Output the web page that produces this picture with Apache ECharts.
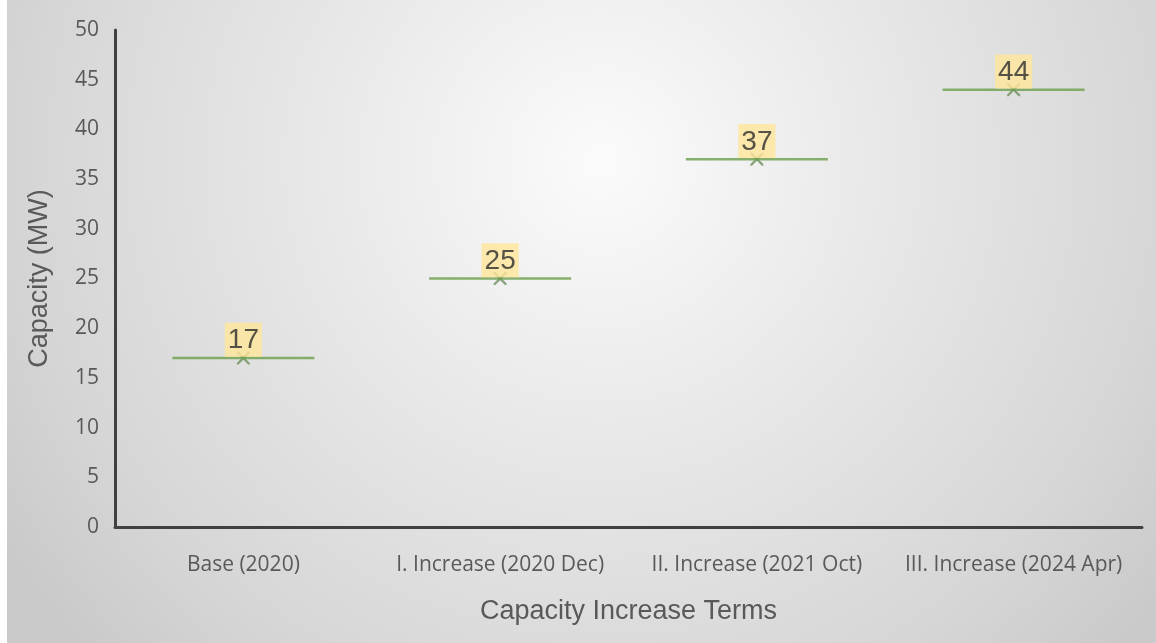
<!DOCTYPE html>
<html>
<head>
<meta charset="utf-8">
<script src="https://cdn.jsdelivr.net/npm/echarts@6/dist/echarts.min.js"></script>
<style>
  html, body { margin: 0; padding: 0; }
  #main { width: 1156px; height: 643px; }
</style>
</head>
<body>
<div id="main"></div>
<script>
var categories = ['Base (2020)', 'I. Increase (2020 Dec)', 'II. Increase (2021 Oct)', 'III. Increase (2024 Apr)'];
var capacity = [17, 25, 37, 44];
var yTicks = { min: 0, max: 50, interval: 5 };

var chartDom = document.getElementById('main');
var myChart = echarts.init(chartDom);

// x marker drawn under the value line
var xMark = 'path://M0,0L2.5,0L10,7.5L17.5,0L20,0L20,2.5L12.5,10L20,17.5L20,20L17.5,20L10,12.5L2.5,20L0,20L0,17.5L7.5,10L0,2.5Z';

var option = {
    backgroundColor: {
        type: 'radial', x: 0.52, y: 0.25, r: 1.1,
        colorStops: [
            { offset: 0, color: '#fbfbfb' },
            { offset: 0.4, color: '#e8e8e8' },
            { offset: 0.8, color: '#d6d6d6' },
            { offset: 1, color: '#cacaca' }
        ]
    },
    animation: false,
    graphic: [
        { type: 'rect', left: 0, top: 0, shape: { width: 7, height: 643 }, style: { fill: '#ffffff' }, silent: true }
    ],
    grid: { left: 115, right: 14, top: 30, bottom: 116 },
    xAxis: {
        type: 'category',
        data: categories,
        name: 'Capacity Increase Terms',
        nameLocation: 'middle',
        nameGap: 71,
        nameTextStyle: { fontFamily: 'Liberation Sans', fontSize: 27, color: '#595959' },
        axisLine: { lineStyle: { color: '#404040', width: 3 } },
        axisTick: { show: false },
        axisLabel: { interval: 0, hideOverlap: false, fontFamily: 'Open Sans', fontSize: 21, color: '#595959', margin: 28 }
    },
    yAxis: {
        type: 'value',
        min: yTicks.min, max: yTicks.max, interval: yTicks.interval,
        name: 'Capacity (MW)',
        nameLocation: 'middle',
        nameGap: 62,
        nameTextStyle: { fontFamily: 'Liberation Sans', fontSize: 27, color: '#595959' },
        axisLine: { show: true, lineStyle: { color: '#404040', width: 3 } },
        axisTick: { show: false },
        splitLine: { show: false },
        axisLabel: { fontFamily: 'Open Sans', fontSize: 21, color: '#595959', margin: 16, padding: [8, 0, 0, 0] }
    },
    series: [
        {
            type: 'scatter',
            data: capacity,
            symbol: xMark,
            symbolSize: 13,
            itemStyle: { color: '#6f8f5f' },
            z: 2
        },
        {
            type: 'scatter',
            data: capacity,
            symbol: 'rect',
            symbolSize: [142, 2.5],
            itemStyle: { color: '#6c9f4c' },
            z: 3,
            label: {
                show: true,
                position: 'top',
                distance: 0,
                fontFamily: 'Liberation Sans',
                fontSize: 28,
                color: '#2b2b2b',
                backgroundColor: '#ffe699',
                padding: [4, 3, 2, 3]
            }
        }
    ]
};

option && myChart.setOption(option);
</script>
</body>
</html>
